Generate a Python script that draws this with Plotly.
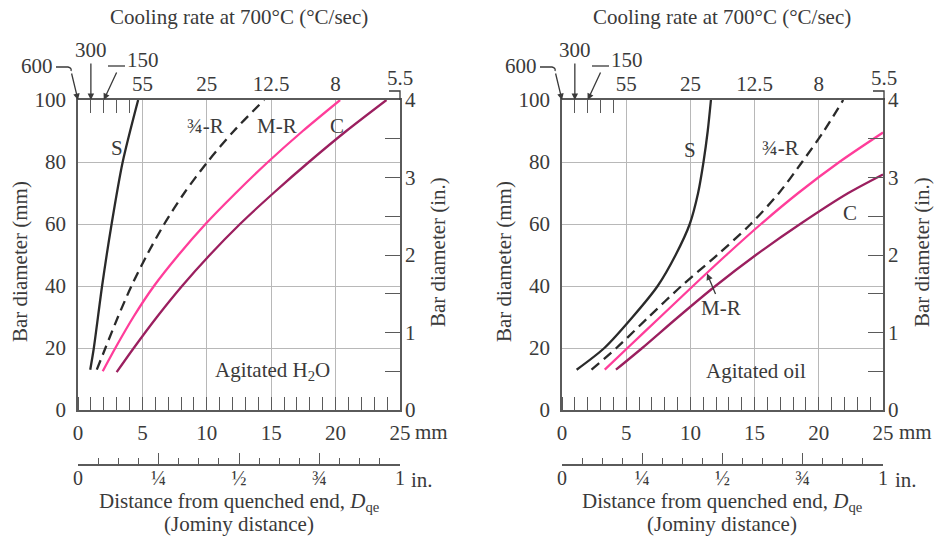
import plotly.graph_objects as go

# ---------------- data (mm) ----------------
# Agitated water
w_S_y   = [13, 20, 40, 60, 80, 100]
w_S_x   = [0.95, 1.23, 1.87, 2.61, 3.47, 4.67]
w_34R_y = [13, 20, 30, 40, 50, 60, 70, 80, 90, 100]
w_34R_x = [1.46, 2.13, 3.1, 4.15, 5.35, 6.7, 8.25, 10.05, 12.1, 14.45]
w_MR_y  = [12.5, 20, 30, 40, 50, 60, 70, 80, 90, 100]
w_MR_x  = [1.92, 2.9, 4.3, 5.9, 7.8, 9.9, 12.25, 14.75, 17.45, 20.35]
w_C_y   = [12.2, 20, 30, 40, 50, 60, 70, 80, 90, 100]
w_C_x   = [3.0, 4.33, 6.13, 8.08, 10.23, 12.58, 15.18, 17.93, 20.83, 23.95]

# Agitated oil
o_S_y   = [13, 20, 30, 40, 50, 60, 70, 80, 90, 100]
o_S_x   = [1.14, 3.3, 5.5, 7.45, 8.85, 9.95, 10.6, 11.02, 11.35, 11.6]
o_34R_y = [13, 20, 30, 40, 50, 60, 70, 80, 90, 100]
o_34R_x = [2.3, 4.24, 6.75, 9.3, 12.1, 14.7, 16.9, 18.7, 20.4, 21.9]
o_MR_y  = [13, 20, 30, 40, 50, 60, 70, 80, 89.5]
o_MR_x  = [3.33, 5.1, 7.65, 10.2, 12.8, 15.5, 18.4, 21.6, 25.0]
o_C_y   = [13, 20, 30, 40, 50, 60, 70, 76]
o_C_x   = [4.2, 6.25, 9.05, 11.95, 15.1, 18.55, 22.3, 25.0]

mm_ticks = [0, 5, 10, 15, 20, 25]
mm_labels = ["0", "5", "10", "15", "20", "25"]
cool_ticks = [5, 10, 15, 20]
cool_labels = ["55", "25", "12.5", "8"]
cool_last = "5.5"          # label of the 25 mm end (drawn raised, with a bracket)
dia_ticks = [0, 20, 40, 60, 80, 100]
in_ticks = [i * 0.5 for i in range(9)]
in_labels = ["0", " ", "1", " ", "2", " ", "3", " ", "4"]
jom_ticks = [0, 0.25, 0.5, 0.75, 1.0]
jom_labels = ["0", "¼", "½", "¾", "1"]

# ---------------- styles ----------------
W, H = 935, 557
FONT = "Liberation Serif"
TXT = "#3a3a3a"
AX = "#5a5a5a"
GRID = "#b8b8b8"
PINK = "#ff3d9a"
PLUM = "#9b1f5f"
BLK = "#2a2a2a"
FS = 21

def px(x):
    return x / W

def py(y):
    return 1 - y / H

L_DOM = [px(78), px(400)]
R_DOM = [px(562), px(883)]
Y_DOM = [py(410), py(100)]

fig = go.Figure()

def curve(x, y, color, dash, xa, ya):
    fig.add_trace(go.Scatter(x=x, y=y, mode="lines",
                             line=dict(color=color, width=2.3, dash=dash, shape="spline", smoothing=0.8),
                             xaxis=xa, yaxis=ya, showlegend=False, hoverinfo="skip"))

DASH = "10px,6px"
curve(w_S_x, w_S_y, BLK, "solid", "x", "y")
curve(w_34R_x, w_34R_y, BLK, DASH, "x", "y")
curve(w_MR_x, w_MR_y, PINK, "solid", "x", "y")
curve(w_C_x, w_C_y, PLUM, "solid", "x", "y")
curve(o_S_x, o_S_y, BLK, "solid", "x2", "y2")
curve(o_34R_x, o_34R_y, BLK, DASH, "x2", "y2")
curve(o_MR_x, o_MR_y, PINK, "solid", "x2", "y2")
curve(o_C_x, o_C_y, PLUM, "solid", "x2", "y2")

# invisible traces to register overlay axes
for xa, ya in [("x3", "y"), ("x4", "y2"), ("x5", "y"), ("x6", "y2"), ("x", "y3"), ("x2", "y4")]:
    fig.add_trace(go.Scatter(x=[0], y=[0], mode="markers", marker=dict(opacity=0), xaxis=xa, yaxis=ya,
                             showlegend=False, hoverinfo="skip"))

tickfont = dict(family=FONT, size=FS, color=TXT)

def mm_axis(dom, anchor):
    return dict(domain=dom, anchor=anchor, range=[0, 25], tickmode="array", tickvals=mm_ticks, ticktext=mm_labels,
                ticks="", showgrid=True, gridcolor=GRID, gridwidth=1, zeroline=False, automargin=False,
                showline=True, mirror=True, linecolor=AX, linewidth=1.6, tickfont=tickfont,
                ticklabelstandoff=3,
                minor=dict(dtick=1, tick0=0, ticks="inside", ticklen=13, tickcolor=AX, tickwidth=1.2, showgrid=False))

def top_axis(over, anchor):
    return dict(overlaying=over, anchor=anchor, side="top", range=[0, 25], tickmode="array",
                tickvals=cool_ticks, ticktext=cool_labels, ticks="", showgrid=False, zeroline=False,
                showline=False, tickfont=tickfont, ticklabelstandoff=4, automargin=False,
                minor=dict(tickmode="array", tickvals=[1, 2, 3, 4], ticks="inside", ticklen=13,
                           tickcolor=AX, tickwidth=1.2, showgrid=False))

def jom_axis(over):
    return dict(overlaying=over, anchor="free", position=py(465), side="bottom", range=[0, 1],
                tickmode="array", tickvals=jom_ticks, ticktext=jom_labels, ticks="inside", ticklen=11,
                tickcolor=AX, tickwidth=1.4, showgrid=False, zeroline=False, showline=True, automargin=False,
                linecolor=AX, linewidth=1.6, tickfont=dict(family=FONT, size=20, color=TXT),
                ticklabelstandoff=-5,
                minor=dict(dtick=1 / 16, tick0=0, ticks="inside", ticklen=6, tickcolor=AX, tickwidth=1.2,
                           showgrid=False))

def dia_axis(anchor):
    return dict(domain=Y_DOM, anchor=anchor, range=[0, 100], tickmode="array", tickvals=dia_ticks,
                ticks="", showgrid=True, gridcolor=GRID, gridwidth=1, zeroline=False, showline=True,
                mirror=True, linecolor=AX, linewidth=1.6, tickfont=tickfont, ticklabelstandoff=6,
                automargin=False)

def in_axis(over, anchor):
    return dict(overlaying=over, anchor=anchor, side="right", range=[0, 4], tickmode="array",
                tickvals=in_ticks, ticktext=in_labels, ticks="inside", ticklen=15, tickcolor=AX,
                tickwidth=1.2, showgrid=False, zeroline=False, showline=False, tickfont=tickfont,
                ticklabelstandoff=4, automargin=False)

fig.update_layout(
    template="none",
    width=W, height=H, margin=dict(l=0, r=0, t=0, b=0, pad=0), autosize=False,
    paper_bgcolor="white", plot_bgcolor="white", showlegend=False,
    font=dict(family=FONT, size=FS, color=TXT),
    xaxis=mm_axis(L_DOM, "y"), xaxis2=mm_axis(R_DOM, "y2"),
    xaxis3=top_axis("x", "y"), xaxis4=top_axis("x2", "y2"),
    xaxis5=jom_axis("x"), xaxis6=jom_axis("x2"),
    yaxis=dia_axis("x"), yaxis2=dia_axis("x2"),
    yaxis3=in_axis("y", "x"), yaxis4=in_axis("y2", "x2"),
)

ann = []
shapes = []

def text(x, y, s, xref="paper", yref="paper", angle=0, size=FS, xanchor="center"):
    ann.append(dict(x=x, y=y, xref=xref, yref=yref, text=s, showarrow=False, textangle=angle,
                    font=dict(family=FONT, size=size, color=TXT), xanchor=xanchor, yanchor="middle"))

for (x0, cx, xr, yr, lab) in [(78, 239, "x", "y", "Agitated H<sub>2</sub>O"),
                              (562, 722, "x2", "y2", "Agitated oil")]:
    text(px(cx), py(17), "Cooling rate at 700°C (°C/sec)")
    text(px(cx), py(502), "Distance from quenched end, <i>D</i><sub>qe</sub>")
    text(px(cx), py(524), "(Jominy distance)")
    text(px(x0 + 322 + 13), py(432), "mm", xanchor="left")
    text(px(x0 + 322 + 9), py(480), "in.", xanchor="left")
    text(px(x0 - 58), py(262), "Bar diameter (mm)", angle=-90)
    text(px(x0 + 360), py(252), "Bar diameter (in.)", angle=-90)
    text(15.1, 12.6, lab, xref=xr, yref=yr)
    # raised last cooling-rate label with bracket
    text(px(x0 + 322), py(78), cool_last)
    shapes.append(dict(type="path", xref="paper", yref="paper",
                       path=f"M {px(x0+311)} {py(91)} L {px(x0+322)} {py(91)} L {px(x0+322)} {py(100)}",
                       line=dict(color=TXT, width=1.3)))
    # 600 / 300 / 150 arrows
    text(px(x0 - 41), py(66), "600")
    text(px(x0 + 65), py(60), "150")
    ann.append(dict(x=1, y=100, xref=xr, yref=yr, ax=0, ay=-50, text="300", showarrow=True,
                    arrowhead=2, arrowsize=1, arrowwidth=1.3, arrowcolor=TXT,
                    font=dict(family=FONT, size=FS, color=TXT)))
    ann.append(dict(x=0, y=100, xref=xr, yref=yr, ax=-7, ay=-29, text=" ", showarrow=True,
                    arrowhead=2, arrowsize=1, arrowwidth=1.3, arrowcolor=TXT, font=dict(size=2)))
    ann.append(dict(x=2, y=100, xref=xr, yref=yr, ax=14, ay=-30, text=" ", showarrow=True,
                    arrowhead=2, arrowsize=1, arrowwidth=1.3, arrowcolor=TXT, font=dict(size=2)))
    shapes.append(dict(type="path", xref="paper", yref="paper",
                       path=f"M {px(x0-22)} {py(67)} L {px(x0-10)} {py(67)} Q {px(x0-6)} {py(68)} {px(x0-7)} {py(71)}",
                       line=dict(color=TXT, width=1.3)))
    shapes.append(dict(type="line", xref="paper", yref="paper", x0=px(x0 + 30), x1=px(x0 + 47),
                       y0=py(66), y1=py(66), line=dict(color=TXT, width=1.3)))

# curve labels (data coordinates)
text(3.0, 84.5, "S", "x", "y")
text(9.9, 91.6, "¾-R", "x", "y")
text(15.45, 91.6, "M-R", "x", "y")
text(20.1, 91.6, "C", "x", "y")
text(10.0, 83.9, "S", "x2", "y2")
text(17.0, 84.5, "¾-R", "x2", "y2")
text(22.4, 63.5, "C", "x2", "y2")
ann.append(dict(x=11.3, y=44, xref="x2", yref="y2", ax=14, ay=34, text="M-R", showarrow=True,
                arrowhead=2, arrowsize=1, arrowwidth=1.3, arrowcolor=TXT, standoff=0,
                font=dict(family=FONT, size=FS, color=TXT)))

fig.update_layout(annotations=ann, shapes=shapes)
fig.write_html("out.html")
